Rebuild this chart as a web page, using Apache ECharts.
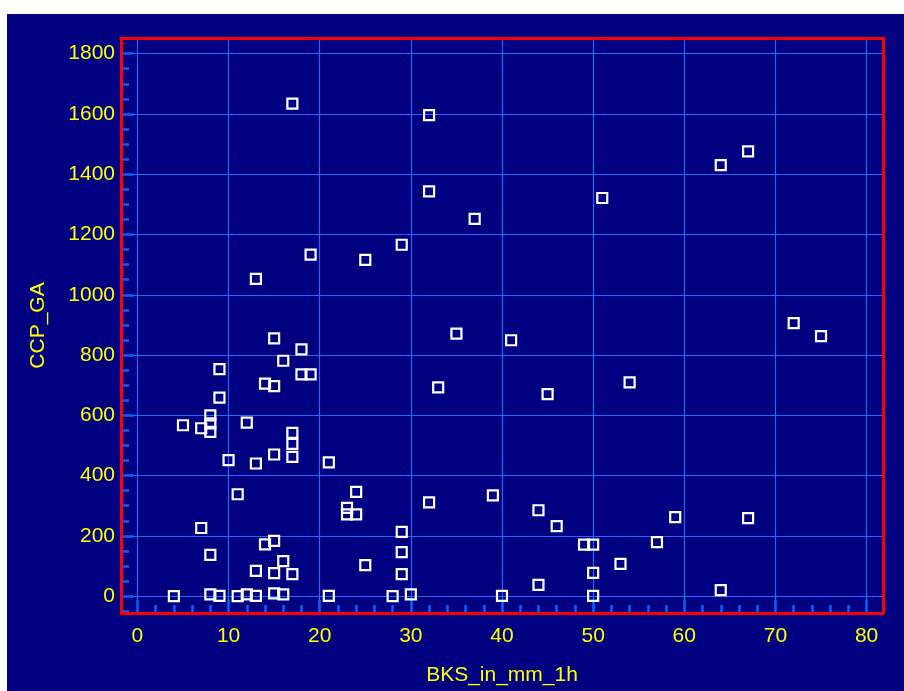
<!DOCTYPE html>
<html>
<head>
<meta charset="utf-8">
<script src="https://cdn.jsdelivr.net/npm/echarts@6/dist/echarts.min.js"></script>
<style>
    html, body {
        margin: 0;
        padding: 0;
        background: #ffffff;
    }
    #chart {
        position: absolute;
        left: 7px;
        top: 14px;
        width: 897px;
        height: 677px;
    }
</style>
</head>
<body>
<div id="chart"></div>
<script>
// BKS_in_mm_1h (x) and CCP_GA (y)
const bksValues = [
    4, 5, 7, 7, 8, 8, 8, 8, 8, 9, 9, 9, 10, 11, 11, 12, 12, 13, 13, 13, 13,
    14, 14, 15, 15, 15, 15, 15, 15, 16, 16, 16, 17, 17, 17, 17, 17, 18, 18,
    19, 19, 21, 21, 23, 23, 24, 24, 25, 25, 28, 29, 29, 29, 29, 30, 32, 32,
    32, 33, 35, 37, 39, 40, 41, 44, 44, 45, 46, 49, 50, 50, 50, 51, 53, 54,
    57, 59, 64, 64, 67, 67, 72, 75
]
const ccpValues = [
    0, 567, 226, 557, 600, 573, 545, 137, 6, 753, 659, 1, 451, 338, 0, 576, 6, 1053, 440, 84, 1,
    705, 172, 855, 697, 470, 183, 76, 9, 781, 116, 6, 1634, 542, 505, 462, 73, 819, 736,
    1133, 736, 444, 1, 293, 271, 346, 271, 1116, 103, 0, 1166, 213, 146, 73, 6, 1596, 1343,
    311, 693, 871, 1252, 334, 1, 849, 285, 37, 670, 232, 171, 171, 77, 1, 1321, 107, 709,
    179, 262, 1430, 20, 1476, 259, 906, 863
]

const xMin = -1.8, xMax = 81.8
const yMin = -56, yMax = 1852

const yellow = '#ffff00'
const gridBlue = '#1a6cff'
const tickBlue = '#0066ff'
const fontFamily = 'Liberation Sans, Arial, sans-serif'

const points = bksValues.map((x, i) => [x, ccpValues[i]])

// extra axes only for the red frame, drawn above the split lines
function frameAxis(position, min, max) {
    return {
        type: 'value',
        position: position,
        min: min,
        max: max,
        z: 10,
        axisLine: { show: true, onZero: false, lineStyle: { color: '#ff0000', width: 3 } },
        axisTick: { show: false },
        axisLabel: { show: false },
        splitLine: { show: false }
    }
}

const chart = echarts.init(document.getElementById('chart'))
chart.setOption({
    backgroundColor: '#000080',
    animation: false,
    grid: { left: 114, right: 21, top: 24, bottom: 78 },
    xAxis: [
        {
            type: 'value',
            min: xMin,
            max: xMax,
            splitNumber: 8,
            name: 'BKS_in_mm_1h',
            nameLocation: 'middle',
            nameGap: 52,
            nameTextStyle: { color: yellow, fontSize: 21, fontFamily: fontFamily },
            axisLine: { show: false, onZero: false },
            axisTick: { show: true, inside: true, length: 13, lineStyle: { color: tickBlue, width: 2.5 } },
            minorTick: { show: true, splitNumber: 5, length: 8, lineStyle: { color: tickBlue, width: 2.5 } },
            axisLabel: {
                color: yellow, fontSize: 21, fontFamily: fontFamily, margin: 13,
                showMinLabel: false, showMaxLabel: false,
                formatter: v => String(v)
            },
            splitLine: { show: true, lineStyle: { color: gridBlue, width: 1.2 } }
        },
        frameAxis('top', xMin, xMax),
        frameAxis('bottom', xMin, xMax)
    ],
    yAxis: [
        {
            type: 'value',
            min: yMin,
            max: yMax,
            splitNumber: 9,
            name: 'CCP_GA',
            nameLocation: 'middle',
            nameGap: 72,
            nameTextStyle: { color: yellow, fontSize: 21, fontFamily: fontFamily },
            axisLine: { show: false, onZero: false },
            axisTick: { show: true, inside: true, length: 13, lineStyle: { color: tickBlue, width: 2.5 } },
            minorTick: { show: true, splitNumber: 4, length: 8, lineStyle: { color: tickBlue, width: 2.5 } },
            axisLabel: {
                color: yellow, fontSize: 21, fontFamily: fontFamily, margin: 6,
                showMinLabel: false, showMaxLabel: false,
                formatter: v => String(v)
            },
            splitLine: { show: true, lineStyle: { color: gridBlue, width: 1.2 } }
        },
        frameAxis('right', yMin, yMax),
        frameAxis('left', yMin, yMax)
    ],
    series: [
        {
            type: 'scatter',
            data: points,
            symbol: 'rect',
            symbolSize: 10,
            z: 5,
            itemStyle: {
                color: 'rgba(0,0,0,0)',
                borderColor: '#ffffff',
                borderWidth: 2.2,
                opacity: 1
            }
        }
    ]
})
</script>
</body>
</html>
